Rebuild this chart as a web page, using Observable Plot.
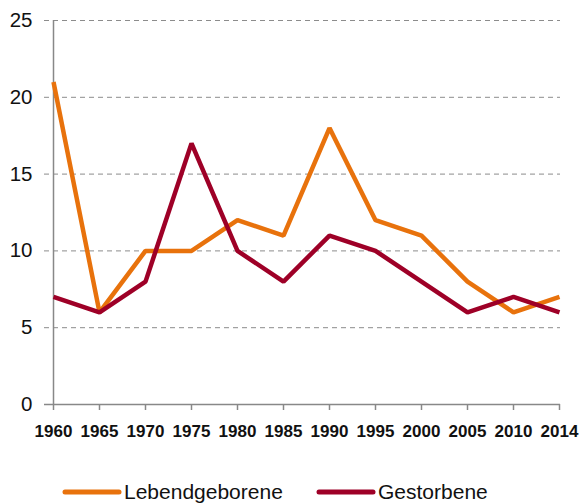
<!DOCTYPE html>
<html>
<head>
<meta charset="utf-8">
<script src="https://cdn.jsdelivr.net/npm/d3@7"></script>
<script src="https://cdn.jsdelivr.net/npm/@observablehq/plot@0.6"></script>
<style>
  body { margin: 0; background: #fff; font-family: "Liberation Sans", Arial, sans-serif; }
  #wrap { position: relative; width: 580px; }
  #legend { position: relative; height: 59px; }
  .item { position: absolute; top: 36px; height: 22px; display: flex; align-items: center; font-size: 21px; line-height: 22px; color: #111; }
  .item svg { margin-right: 2px; }
</style>
</head>
<body>
<div id="wrap">
  <div id="chart"></div>
  <div id="legend"></div>
</div>
<script>
const years = ["1960","1965","1970","1975","1980","1985","1990","1995","2000","2005","2010","2014"];
const lebendgeborene = [21, 6, 10, 10, 12, 11, 18, 12, 11, 8, 6, 7];
const gestorbene = [7, 6, 8, 17, 10, 8, 11, 10, 8, 6, 7, 6];
const seriesNames = ["Lebendgeborene", "Gestorbene"];
const seriesColors = ["#E8720C", "#9E0027"];
const yTicks = [0, 5, 10, 15, 20, 25];

const data = [];
years.forEach((y, i) => {
  data.push({year: y, value: lebendgeborene[i], series: seriesNames[0]});
  data.push({year: y, value: gestorbene[i], series: seriesNames[1]});
});

const chart = Plot.plot({
  width: 580,
  height: 445,
  marginLeft: 51,
  marginRight: 20,
  marginTop: 20,
  marginBottom: 41,
  style: {fontFamily: "'Liberation Sans', Arial, sans-serif", background: "#fff"},
  x: {type: "point", domain: years, padding: 0, label: null},
  y: {domain: [0, 25], label: null},
  color: {domain: seriesNames, range: seriesColors},
  marks: [
    Plot.ruleY(yTicks.filter(d => d > 0), {stroke: "#8c8c8c", strokeDasharray: "5,4", strokeWidth: 1, insetLeft: -7}),
    Plot.ruleY([0], {stroke: "#888", strokeWidth: 1.5, insetLeft: -7}),
    Plot.ruleX([years[0]], {y1: 0, y2: 25, stroke: "#888", strokeWidth: 1.5}),
    Plot.axisY({ticks: yTicks, tickSize: 0, tickPadding: 19, fontSize: 20.5, fill: "#111"}),
    Plot.axisX({tickSize: 6, stroke: "#888", strokeWidth: 1.5, tickPadding: 14, fontSize: 17, fontWeight: "bold", fill: "#111"}),
    Plot.line(data, {x: "year", y: "value", z: "series", stroke: "series", strokeWidth: 4.5, strokeLinejoin: "miter", strokeLinecap: "butt"})
  ]
});
document.getElementById("chart").appendChild(chart);

const legend = document.getElementById("legend");
const lefts = [62, 316];
seriesNames.forEach((name, i) => {
  const item = document.createElement("div");
  item.className = "item";
  item.style.left = lefts[i] + "px";
  item.innerHTML = `<svg width="60" height="10"><line x1="3" y1="5" x2="57" y2="5" stroke="${seriesColors[i]}" stroke-width="5" stroke-linecap="round"/></svg><span>${name}</span>`;
  legend.appendChild(item);
});
</script>
</body>
</html>
